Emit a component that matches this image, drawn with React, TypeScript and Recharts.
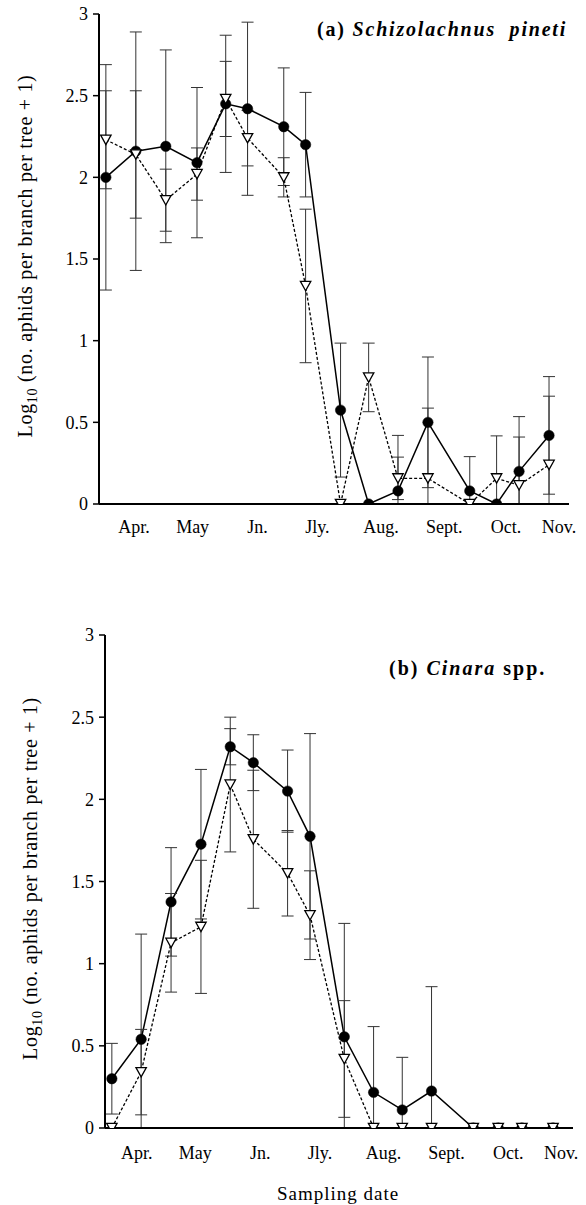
import React from 'react';
import { ComposedChart, Line, XAxis, YAxis, ErrorBar, Label } from 'recharts';

const FONT = '"Liberation Serif", "Times New Roman", Times, serif';

// ---- shared axis text ----
const monthLabels = ['Apr.', 'May', 'Jn.', 'Jly.', 'Aug.', 'Sept.', 'Oct.', 'Nov.'];
const monthLabelPos = [0.56, 1.5, 2.54, 3.5, 4.52, 5.53, 6.52, 7.37];
const monthBoundaries = [1, 2, 3, 4, 5, 6, 7];
const yTicks = [0, 0.5, 1, 1.5, 2, 2.5, 3];

// ---- (a) Schizolachnus pineti ----  x = months since 1 April
const monthsA = [0.11, 0.59, 1.07, 1.57, 2.03, 2.38, 2.96, 3.31, 3.87, 4.32, 4.79, 5.27, 5.94, 6.37, 6.73, 7.21];
const aCircle = [2.0, 2.16, 2.19, 2.09, 2.45, 2.42, 2.31, 2.2, 0.575, 0, 0.08, 0.5, 0.08, 0, 0.2, 0.42];
const aCircleErr = [0.69, 0.73, 0.59, 0.46, 0.42, 0.53, 0.36, 0.32, 0.41, null, 0.34, 0.4, 0.21, null, 0.335, 0.36];
const aTri = [2.23, 2.14, 1.86, 2.02, 2.48, 2.24, 2.0, 1.335, 0, 0.775, 0.157, 0.157, 0, 0.157, 0.115, 0.24];
const aTriErr = [0.3, 0.39, 0.19, 0.16, 0.23, 0.17, 0.12, 0.47, null, 0.21, 0.13, 0.43, null, 0.26, 0.295, 0.42];

// ---- (b) Cinara spp. ----
const monthsB = [0.16, 0.63, 1.11, 1.59, 2.06, 2.43, 2.98, 3.34, 3.89, 4.36, 4.82, 5.29, 5.96, 6.36, 6.74, 7.24];
const bCircle = [0.3, 0.54, 1.376, 1.727, 2.32, 2.223, 2.05, 1.775, 0.555, 0.217, 0.11, 0.225, 0, 0, 0, 0];
const bCircleErr = [0.215, 0.64, 0.33, 0.455, 0.11, 0.17, 0.25, 0.625, 0.69, 0.4, 0.32, 0.635, null, null, null, null];
const bTri = [0, 0.34, 1.127, 1.224, 2.09, 1.757, 1.55, 1.295, 0.42, 0, 0, 0, 0, 0, 0, 0];
const bTriErr = [null, 0.26, 0.3, 0.405, 0.41, 0.42, 0.26, 0.27, 0.355, null, null, null, null, null, null, null];

const clipErr = (v: number, e: number | null) => (e == null ? null : [Math.min(e, v), e]);

const buildRows = (months: number[], c: number[], cErr: (number | null)[], t: number[], tErr: (number | null)[]) =>
  months.map((m, i) => ({
    m,
    c: c[i],
    cErr: clipErr(c[i], cErr[i]),
    t: t[i],
    tErr: clipErr(t[i], tErr[i]),
  }));

const TriangleDot = (props: any) => {
  const { cx, cy, index } = props;
  if (cx == null || cy == null) return <g key={index} />;
  const pts = `${cx - 5.2},${cy - 4.6} ${cx + 5.2},${cy - 4.6} ${cx},${cy + 4.8}`;
  return <polygon key={index} points={pts} fill="#fff" stroke="#000" strokeWidth={1.3} />;
};

const CircleDot = (props: any) => {
  const { cx, cy, index } = props;
  if (cx == null || cy == null) return <g key={index} />;
  return <circle key={index} cx={cx} cy={cy} r={5.2} fill="#000" stroke="#000" strokeWidth={0.5} />;
};

const makeYLabel = (dx: number) => (props: any) => {
  const vb = props.viewBox || { x: 0, y: 0, width: 0, height: 0 };
  const cx = vb.x + dx;
  const cy = vb.y + vb.height / 2 - 3;
  return (
    <text
      x={cx}
      y={cy}
      transform={`rotate(-90, ${cx}, ${cy})`}
      textAnchor="middle"
      fontFamily={FONT}
      fontSize={20}
      letterSpacing={0.7}
      fill="#000"
    >
      <tspan>Log</tspan>
      <tspan fontSize={14} dy={5}>10</tspan>
      <tspan dy={-5}>{' (no. aphids per branch per tree + 1)'}</tspan>
    </text>
  );
};

type PanelProps = {
  rows: any[];
  domain: [number, number];
  width: number;
  height: number;
  margin: { top: number; right: number; left: number; bottom: number };
  yAxisWidth: number;
  labelGap: number;
  yLabelDx: number;
};

const Panel = ({ rows, domain, width, height, margin, yAxisWidth, labelGap, yLabelDx }: PanelProps) => (
  <ComposedChart width={width} height={height} data={rows} margin={margin}>
    <XAxis
      xAxisId="b_label"
      type="number"
      dataKey="m"
      domain={domain}
      ticks={monthLabelPos}
      interval={0}
      tickFormatter={(_v: any, i: number) => monthLabels[i]}
      axisLine={false}
      tickLine={false}
      tickSize={0}
      tickMargin={labelGap}
      height={30}
      allowDataOverflow
      tick={{ fill: '#000', fontSize: 18, fontFamily: FONT }}
    />
    <XAxis
      xAxisId="a_tick"
      type="number"
      dataKey="m"
      domain={domain}
      ticks={monthBoundaries}
      interval={0}
      tick={false}
      tickSize={6}
      height={6}
      allowDataOverflow
      axisLine={{ stroke: '#000', strokeWidth: 2 }}
      tickLine={{ stroke: '#000', strokeWidth: 1.5 }}
    />
    <YAxis
      type="number"
      domain={[0, 3]}
      ticks={yTicks}
      interval={0}
      width={yAxisWidth}
      tickSize={6}
      tickMargin={5}
      allowDataOverflow
      axisLine={{ stroke: '#000', strokeWidth: 2 }}
      tickLine={{ stroke: '#000', strokeWidth: 1.5 }}
      tick={{ fill: '#000', fontSize: 18, fontFamily: FONT }}
    >
      <Label content={makeYLabel(yLabelDx)} />
    </YAxis>
    <Line
      xAxisId="a_tick"
      dataKey="c"
      type="linear"
      stroke="#000"
      strokeWidth={1.5}
      dot={CircleDot}
      activeDot={false}
      isAnimationActive={false}
    >
      <ErrorBar dataKey="cErr" direction="y" width={6} stroke="#333" strokeWidth={1} />
    </Line>
    <Line
      xAxisId="a_tick"
      dataKey="t"
      type="linear"
      stroke="#000"
      strokeWidth={1.3}
      strokeDasharray="3 2"
      dot={TriangleDot}
      activeDot={false}
      isAnimationActive={false}
    >
      <ErrorBar dataKey="tErr" direction="y" width={6} stroke="#333" strokeWidth={1} />
    </Line>
  </ComposedChart>
);

const rowsA = buildRows(monthsA, aCircle, aCircleErr, aTri, aTriErr);
const rowsB = buildRows(monthsB, bCircle, bCircleErr, bTri, bTriErr);

export default function App() {
  return (
    <div style={{ position: 'absolute', left: 0, top: 0, width: 586, height: 1205, background: '#fff', overflow: 'hidden' }}>
      <div style={{ position: 'absolute', left: 0, top: 0 }}>
        <Panel
          rows={rowsA}
          domain={[0, 7.53]}
          width={586}
          height={560}
          margin={{ top: 14, right: 17, left: 0, bottom: 20 }}
          yAxisWidth={99}
          labelGap={10}
          yLabelDx={32}
        />
      </div>
      <div style={{ position: 'absolute', left: 0, top: 590 }}>
        <Panel
          rows={rowsB}
          domain={[0.05, 7.56]}
          width={586}
          height={615}
          margin={{ top: 45, right: 13, left: 0, bottom: 41 }}
          yAxisWidth={105}
          labelGap={12}
          yLabelDx={37}
        />
      </div>
      <svg
        width={586}
        height={1205}
        style={{ position: 'absolute', left: 0, top: 0, pointerEvents: 'none' }}
      >
        <text x={317} y={36} fontFamily={FONT} fontSize={20} fontWeight="bold" letterSpacing={1.8} fill="#000">
          <tspan>(a) </tspan>
          <tspan fontStyle="italic">Schizolachnus</tspan>
          <tspan>{'\u00a0\u00a0'}</tspan>
          <tspan fontStyle="italic">pineti</tspan>
        </text>
        <text x={389} y={675} fontFamily={FONT} fontSize={20} fontWeight="bold" letterSpacing={2} fill="#000">
          <tspan>(b) </tspan>
          <tspan fontStyle="italic">Cinara</tspan>
          <tspan>{' spp.'}</tspan>
        </text>
        <text x={338} y={1200} textAnchor="middle" fontFamily={FONT} fontSize={19} letterSpacing={1} fill="#000">
          Sampling date
        </text>
      </svg>
    </div>
  );
}
